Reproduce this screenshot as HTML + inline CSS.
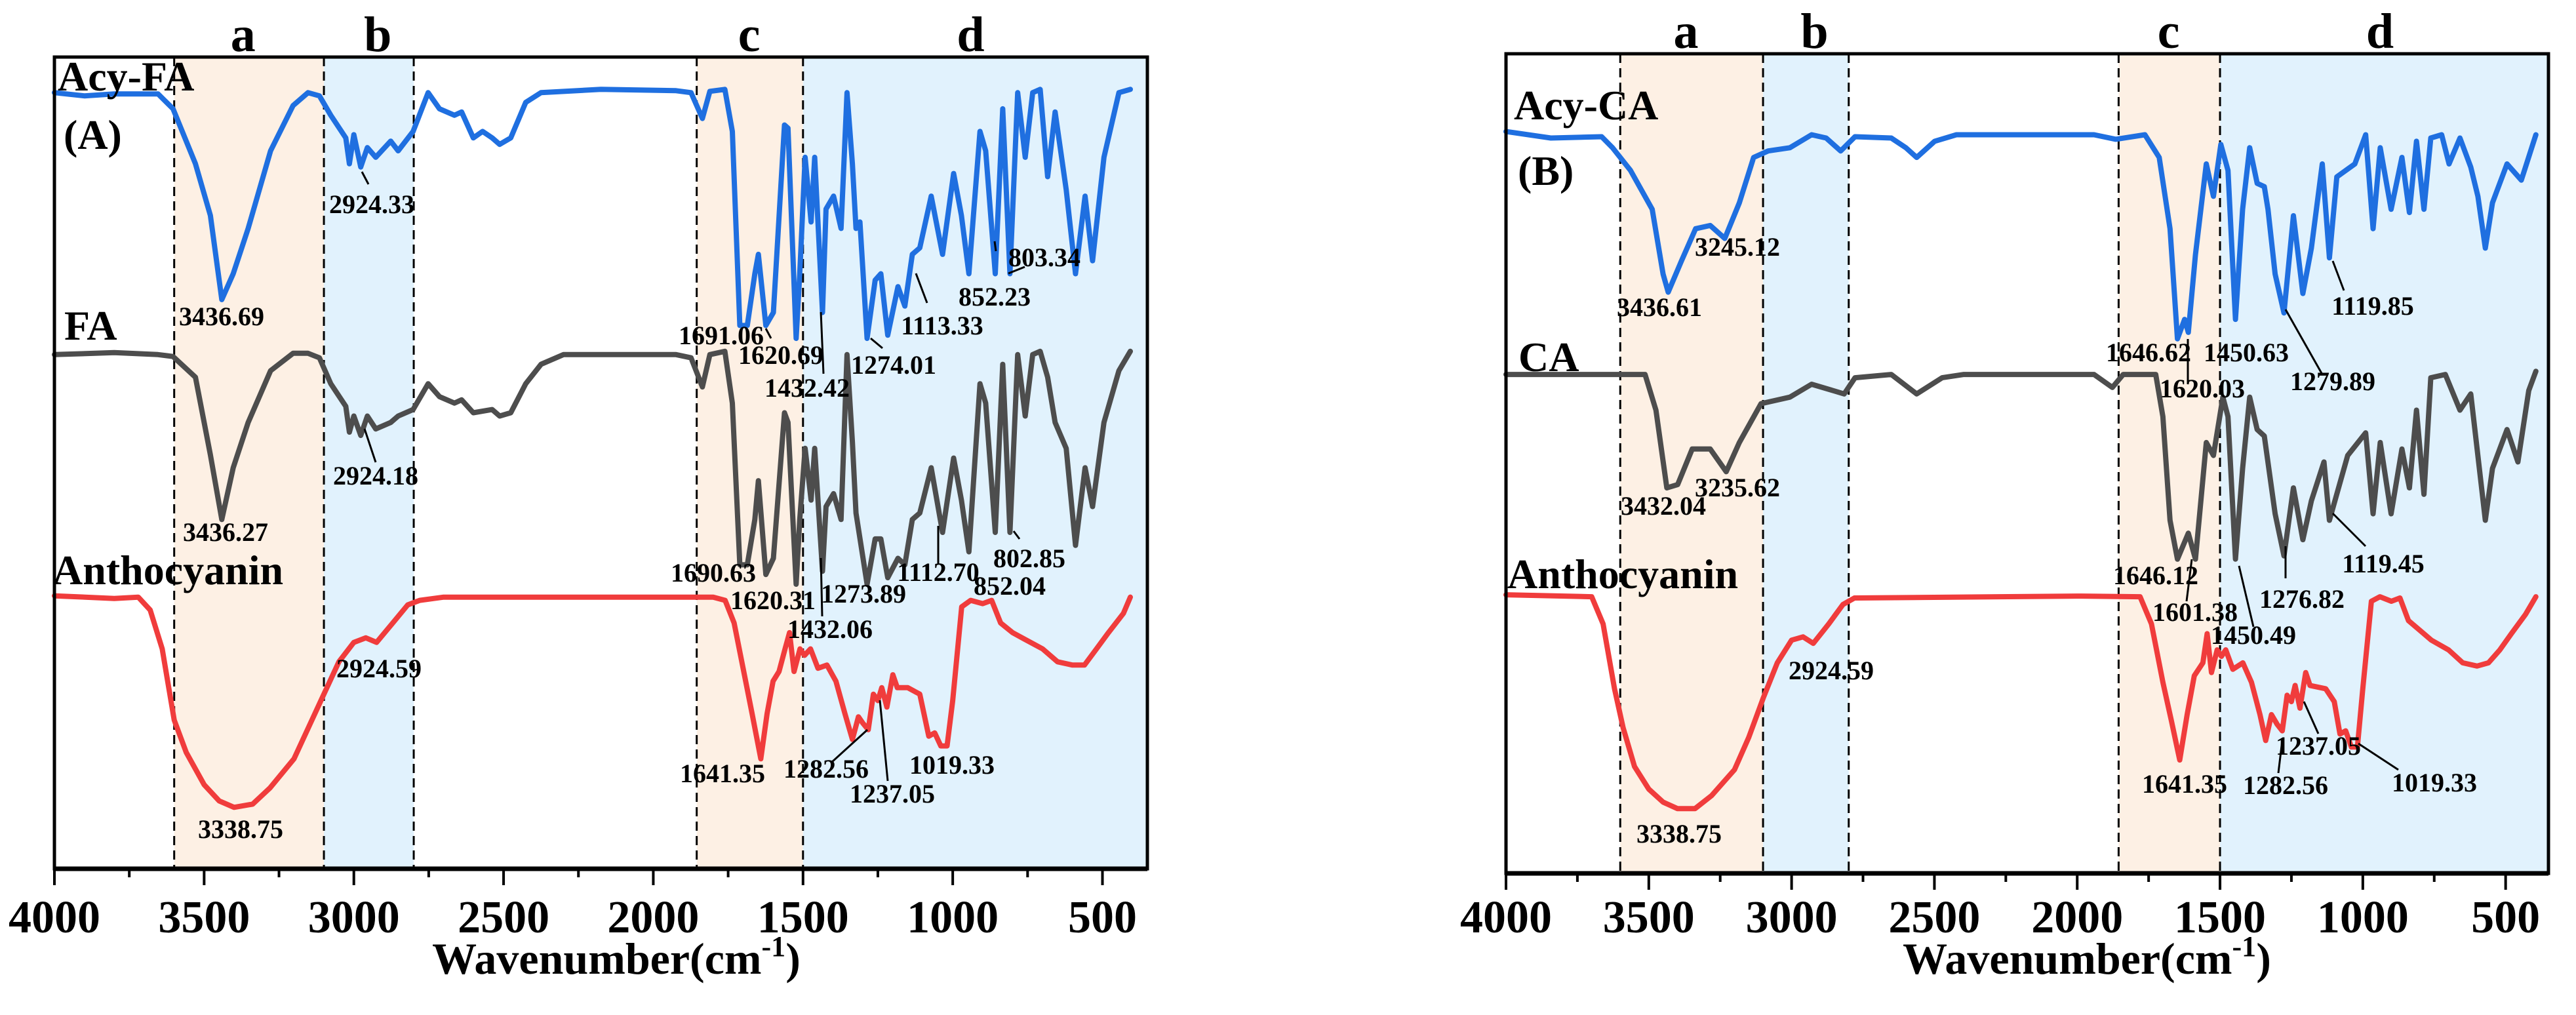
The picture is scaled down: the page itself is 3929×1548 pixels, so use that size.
<!DOCTYPE html>
<html><head><meta charset="utf-8"><style>
html,body{margin:0;padding:0;background:#fff;}
svg{display:block;font-family:"Liberation Serif",serif;font-weight:bold;}
</style></head><body>
<svg id="chart" width="3929" height="1548" viewBox="0 0 3929 1548" xmlns="http://www.w3.org/2000/svg"></svg>
<script>
// ---------- data ----------
const tickValues = [4000,3500,3000,2500,2000,1500,1000,500];
const bandRanges = [[3600,3100,'#fdf0e4'],[3100,2800,'#e1f2fd'],[1855,1500,'#fdf0e4'],[1500,350,'#e1f2fd']];
const regionLetters = ['a','b','c','d'];
const regionLetterWn = [3370,2920,1680,940];

const acyFA_wn = [4000,3900,3800,3654,3604,3529,3479,3441,3403,3353,3278,3203,3153,3115,3077,3027,3015,3000,2977,2955,2927,2877,2852,2802,2752,2714,2664,2640,2601,2570,2538,2513,2476,2426,2375,2175,1924,1874,1836,1811,1761,1736,1711,1686,1661,1649,1624,1599,1562,1550,1523,1511,1493,1473,1461,1435,1423,1398,1373,1353,1335,1323,1310,1286,1259,1240,1217,1183,1160,1135,1110,1072,1034,997,971,946,909,890,858,833,809,783,758,733,708,683,658,621,590,558,533,495,445,407];
const acyFA_t = [120,119.5,119.8,119.8,117.5,109,101,88,92,99,111,118,120,119.5,116.5,113,109,113.5,108.5,111.5,110,112.5,111,114,120,117.5,116.5,117,113,114,113,112,113,118.5,120,120.5,120.3,120,116,120.2,120.5,114,84,84,92,95,84,86,115,114.5,82,92,110,100,110,86,102,104,99,120,109,99,100,82,91,92,82.5,90,87,95,96,104,95,107.5,101,92,114,111,92,117.5,92,120,110,120,120.5,107,117,105,92,104,94,110,120,120.5];

const FA_wn = [4000,3800,3654,3604,3529,3479,3441,3403,3353,3278,3203,3153,3115,3077,3027,3015,3000,2977,2955,2927,2877,2852,2802,2752,2714,2664,2640,2601,2538,2513,2476,2426,2375,2300,1924,1874,1836,1811,1761,1736,1711,1686,1661,1649,1624,1599,1562,1550,1523,1511,1493,1473,1461,1435,1423,1398,1373,1353,1335,1323,1286,1259,1240,1217,1183,1160,1135,1110,1072,1034,997,971,946,909,890,858,833,809,783,758,733,708,683,658,621,590,558,533,495,445,407];
const FA_t = [79.5,79.8,79.5,79.2,76,64,54,62,69,77,79.7,79.7,79,75,71.5,67.5,70,67,70,68,69,70,71,75,73,72,72.5,70.5,71,70,70.5,75,78,79.5,79.5,79,74.5,79.5,80,72,47,47,54,60,45.5,48,70.5,69,44,54,65,57,65,46,56,58,54,79.5,66,55,44,51,51,45,48,47,54,55,62,52,63.5,57,49,75,72,52,78,52,79.5,70,79.5,80,76,69,65,50,62,56,69,77,80];

const anthoA_wn = [4000,3800,3720,3680,3640,3600,3560,3500,3450,3400,3338,3280,3200,3150,3100,3050,3000,2960,2924,2870,2820,2780,2700,2000,1800,1760,1730,1700,1670,1641,1620,1600,1580,1560,1545,1530,1510,1495,1475,1450,1420,1390,1360,1335,1315,1300,1282,1265,1250,1237,1220,1200,1185,1150,1110,1080,1060,1040,1019,1000,970,940,900,870,840,800,760,700,650,600,560,520,480,430,407];
const anthoA_t = [42.2,41.8,42,40,34,23,18,13,10.5,9.5,10,12.5,17,22,27,32,35,35.7,35,38,40.8,41.5,42,42,42,41.5,38,31,24,17,24,29,30.5,34,36.5,30.5,34,33,34,31,31.5,29,24,20,23.5,22.5,21.5,27,26,28,25,30,28,28,27,20.5,21,19,19,26,40.5,41.5,41,41.5,38,36.5,35.5,34,32,31.5,31.5,34,36.5,39.5,42];

const acyCA_wn = [4000,3843,3665,3627,3564,3488,3450,3432,3386,3336,3285,3234,3183,3133,3082,3006,2930,2879,2828,2778,2651,2600,2562,2499,2423,1941,1865,1763,1713,1675,1649,1624,1611,1586,1548,1523,1497,1472,1446,1421,1396,1370,1345,1332,1307,1276,1243,1210,1180,1142,1117,1091,1028,990,964,939,901,863,837,812,786,762,724,698,660,622,597,571,546,495,445,394];
const acyCA_t = [114.5,113.5,113.7,112,108.5,102.5,92.5,89.7,94.5,99.5,100,98,103.5,110.5,111.5,112,114,113.5,111.5,113.7,113.5,112,110.5,113,114,114,113.3,114,110.5,99.5,82.5,85.5,83.5,95.5,109.5,104.5,112.5,108.5,85.5,102.5,112,106.5,106,102.5,92.5,86.5,101.5,89.5,96.5,109.5,95,107.5,109.5,114,99.5,112,102.5,110.5,102,113,102.5,113.5,114,109.5,113.5,109,104.5,96.5,103.5,109.5,107,114];

const CA_wn = [4000,3513,3475,3437,3399,3348,3285,3229,3183,3107,3006,2930,2854,2816,2778,2651,2562,2473,2397,1941,1877,1839,1725,1700,1675,1649,1611,1586,1548,1523,1490,1472,1446,1421,1396,1370,1345,1307,1276,1243,1210,1180,1136,1117,1053,990,964,939,901,863,837,812,786,762,711,660,622,571,546,495,457,419,394];
const CA_t = [77,77,71.5,59.5,60,65.5,65.5,62,66.5,72.5,73.5,75.5,74.5,74,76.5,77,74,76.5,77,77,75,77,77,70.5,54.5,48.5,52.5,48.5,66.5,64.5,73.5,70.5,48.5,62.5,73.5,68.5,67.5,55.5,49,59.5,51.5,57.5,63.5,54.5,64.5,68,55.5,66.5,55.5,65.5,59.5,71.5,58.5,76.5,77,71.5,74,54.5,62.5,68.5,63.5,74.5,77.5];

const anthoB_wn = [4000,3700,3660,3620,3590,3550,3500,3450,3400,3338,3280,3200,3150,3100,3050,3000,2960,2924,2870,2820,2780,2000,1780,1740,1700,1670,1641,1615,1590,1560,1545,1530,1510,1495,1480,1455,1420,1390,1360,1340,1320,1300,1282,1265,1250,1237,1220,1200,1185,1130,1100,1080,1060,1040,1019,1000,970,940,900,870,840,800,760,700,650,600,560,520,480,430,394];
const anthoB_t = [43,42.7,38.5,28.5,22.5,16.5,13,11,10,10,12,16,21,27,32.5,36,36.5,35.5,38.5,41.5,42.5,42.8,42.7,38.5,29.5,23.5,17.5,24.5,30.5,32.5,37,31,34.5,33.5,34.5,31.5,32.5,29.5,24.5,20.5,24.5,23,22,27.5,26.5,29,25.5,31,29,28.5,26.5,21.5,22,19.5,19.5,28.5,42,42.7,42,42.5,39,37.5,36,34.5,32.5,32,32.5,34.5,37,40,42.7];

// ---------- drawing ----------
const NS='http://www.w3.org/2000/svg';
const svg=document.getElementById('chart');
function mk(tag,attrs,parent){const e=document.createElementNS(NS,tag);for(const k in attrs)e.setAttribute(k,attrs[k]);(parent||svg).appendChild(e);return e;}

const panels=[
 {id:'a',x0:83,x1:1750,y0:87,y1:1325,tmax:125.5,
  series:[[acyFA_wn,acyFA_t,'#1f6fe0','acy-fa-line'],[FA_wn,FA_t,'#4d4d4d','fa-line'],[anthoA_wn,anthoA_t,'#f03c3c','anthocyanin-line']],
  names:[['Acy-FA',88,138],['(A)',97,227],['FA',98,518],['Anthocyanin',80,891]],
  titleX:940,
  peaks:[['2924.33',567,325],['3436.69',338,496],['1691.06',1100,525],['1620.69',1191,555],['1432.42',1231,605],['1274.01',1363,570],['1113.33',1437,510],['852.23',1517,466],['803.34',1593,406],
         ['2924.18',573,739],['3436.27',344,825],['1690.63',1088,887],['1620.31',1179,929],['1273.89',1317,919],['1432.06',1266,973],['1112.70',1431,886],['852.04',1540,907],['802.85',1570,865],
         ['2924.59',578,1033],['3338.75',367,1278],['1641.35',1102,1193],['1282.56',1260,1186],['1237.05',1361,1224],['1019.33',1452,1180]],
  leaders:[[552,262,562,281],[1252,476,1256,570],[1328,516,1346,531],[1397,417,1414,462],[1517,368,1519,383],[1538,417,1563,407],[556,654,573,705],[1252,851,1254,940],[1431,802,1431,861],[1546,810,1555,822],[1269,1162,1323,1113],[1342,1068,1354,1191],[1168,501,1176,516]]},
 {id:'b',x0:2297,x1:3887,y0:82,y1:1332,tmax:126.5,
  series:[[acyCA_wn,acyCA_t,'#1f6fe0','acy-ca-line'],[CA_wn,CA_t,'#4d4d4d','ca-line'],[anthoB_wn,anthoB_t,'#f03c3c','anthocyanin-line']],
  names:[['Acy-CA',2309,182],['(B)',2315,282],['CA',2316,566],['Anthocyanin',2299,897]],
  titleX:3183,
  peaks:[['3245.12',2650,390],['3436.61',2531,482],['1646.62',3277,551],['1620.03',3359,606],['1450.63',3426,551],['1279.89',3558,595],['1119.85',3619,480],
         ['3432.04',2537,785],['3235.62',2650,757],['1646.12',3288,891],['1601.38',3348,947],['1450.49',3437,982],['1276.82',3511,927],['1119.45',3635,873],
         ['2924.59',2793,1036],['3338.75',2561,1285],['1641.35',3332,1209],['1282.56',3486,1211],['1237.05',3536,1151],['1019.33',3713,1207]],
  leaders:[[3337,517,3337,586],[3486,472,3542,571],[3558,398,3575,443],[3343,853,3335,917],[3415,863,3437,956],[3486,833,3486,882],[3558,783,3608,833],[3481,1129,3475,1179],[3514,1070,3536,1119],[3597,1134,3658,1174]]}
];

panels.forEach(p=>{
  const g=mk('g',{});
  
  
  const xs=w=>p.x0+(4000-w)*(p.x1-p.x0)/3650;
  const ys=t=>p.y1-t*(p.y1-p.y0)/p.tmax;
  bandRanges.forEach((b,i)=>{
    const r=mk('rect',{x:xs(b[0]),y:p.y0,width:xs(b[1])-xs(b[0]),height:p.y1-p.y0,fill:b[2]},g);
    
    
  });
  [3600,3100,2800,1855,1500].forEach(w=>{
    const l=mk('line',{x1:xs(w),x2:xs(w),y1:p.y0,y2:p.y1,stroke:'#000','stroke-width':3,'stroke-dasharray':'14,8'},g);
    
    
  });
  regionLetters.forEach((L,i)=>{
    const t=mk('text',{x:xs(regionLetterWn[i]),y:p.y0-9,'text-anchor':'middle','font-size':76},g);
    t.textContent=L;
    
    
  });
  p.series.forEach(s=>{
    const d=s[0].map((w,i)=>(i?'L':'M')+xs(w).toFixed(1)+','+ys(s[1][i]).toFixed(1)).join('');
    const path=mk('path',{d:d,fill:'none',stroke:s[2],'stroke-width':8,'stroke-linejoin':'round','stroke-linecap':'round'},g);
    
    
  });
  const fr=mk('rect',{x:p.x0,y:p.y0,width:p.x1-p.x0,height:p.y1-p.y0,fill:'none',stroke:'#000','stroke-width':5},g);
  
  
  mk('line',{x1:p.x0,x2:p.x1,y1:p.y1,y2:p.y1,stroke:'#000','stroke-width':7},g);
  for(let w=4000;w>=350;w-=250){
    const major=w%500===0;
    const tk=mk('line',{x1:xs(w),x2:xs(w),y1:p.y1,y2:p.y1+(major?25:13),stroke:'#000','stroke-width':4},g);
    
    
  }
  tickValues.forEach(v=>{
    const t=mk('text',{x:xs(v),y:1422,'text-anchor':'middle','font-size':70},g);
    t.textContent=v;
    
    
  });
  const ti=mk('text',{x:p.titleX,y:1485,'text-anchor':'middle','font-size':68},g);
  ti.innerHTML='Wavenumber(cm<tspan dy="-27" font-size="44">-1</tspan><tspan dy="27">)</tspan>';
  
  
  p.names.forEach(n=>{
    const t=mk('text',{x:n[1],y:n[2],'font-size':64},g);
    t.textContent=n[0];
    
    
  });
  p.leaders.forEach(l=>{
    const ln=mk('line',{x1:l[0],y1:l[1],x2:l[2],y2:l[3],stroke:'#000','stroke-width':3},g);
    
    
  });
  p.peaks.forEach(pk=>{
    const t=mk('text',{x:pk[1],y:pk[2],'text-anchor':'middle','font-size':40},g);
    t.textContent=pk[0];
    
    
  });
});
</script>
</body></html>
